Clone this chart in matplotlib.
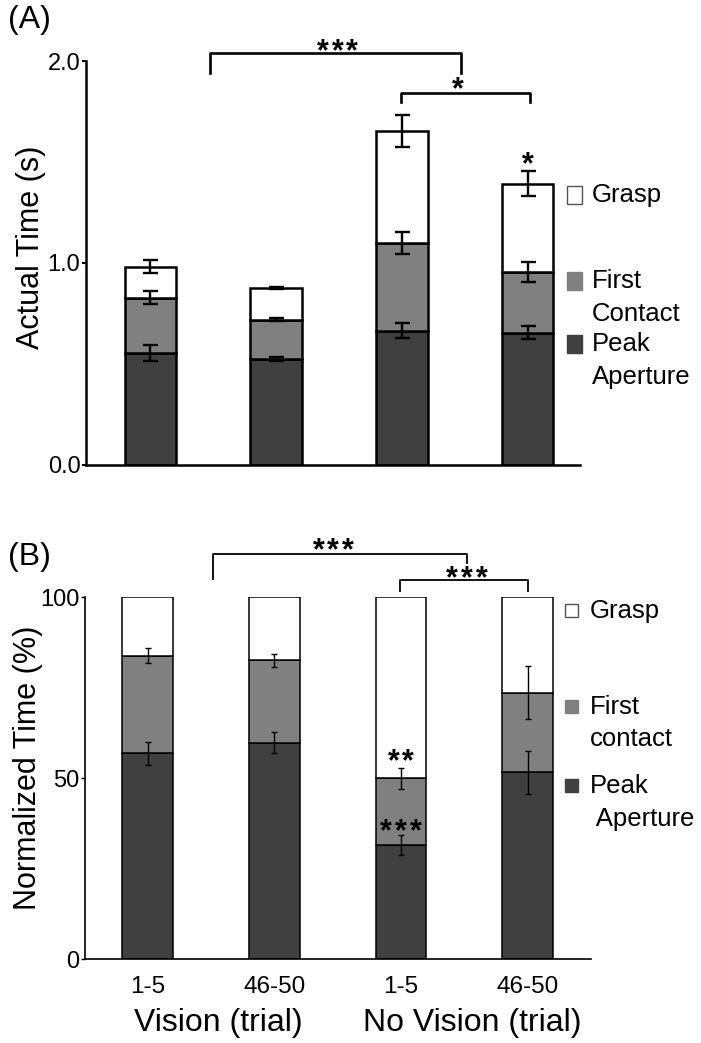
import matplotlib

matplotlib.use("Agg")
import matplotlib.pyplot as plt
import numpy as np
from matplotlib.font_manager import FontProperties
from matplotlib.patches import Rectangle
from matplotlib.textpath import TextPath

plt.rcParams["font.family"] = ["Liberation Sans", "DejaVu Sans"]

# ---- data -------------------------------------------------------------
groups = ["Vision 1-5", "Vision 46-50", "No Vision 1-5", "No Vision 46-50"]
tick_labels = ["1-5", "46-50", "1-5", "46-50"]
group_labels = ["Vision (trial)", "No Vision (trial)"]

# (A) actual time (s) at which each event is reached
peak_time = [0.556, 0.525, 0.665, 0.655]
contact_time = [0.827, 0.720, 1.100, 0.954]
grasp_time = [0.981, 0.875, 1.654, 1.393]
peak_time_err = [0.040, 0.008, 0.036, 0.033]
contact_time_err = [0.032, 0.006, 0.055, 0.049]
grasp_time_err = [0.033, 0.005, 0.078, 0.063]

# (B) normalised time (% of movement)
peak_pct = [56.8, 59.8, 31.5, 51.6]
contact_pct = [83.8, 82.5, 49.9, 73.6]
grasp_pct = [100, 100, 100, 100]
peak_pct_err = [3.2, 3.0, 2.8, 5.9]
contact_pct_err = [2.0, 1.75, 2.8, 7.3]

PEAK_C = "#404040"
CONTACT_C = "#808080"
GRASP_C = "#ffffff"

STAR_FP = FontProperties(family="Liberation Sans", weight="bold", size=22)
STAR_GAP = 10.5  # points between asterisk centres
# vertical centre of the asterisk glyph above the baseline, in points
_ext = TextPath((0, 0), "*", prop=STAR_FP).get_extents()
STAR_DY = (_ext.y0 + _ext.y1) / 2
STAR_DX = (_ext.x0 + _ext.x1) / 2


def stars(ax, x, y, n):
    """Place n asterisks so the group of glyphs is centred on (x, y)."""
    for k in range(n):
        off = (k - (n - 1) / 2) * STAR_GAP
        ax.annotate("*", (x, y), xytext=(off - STAR_DX, -STAR_DY), textcoords="offset points",
                    ha="left", va="baseline", fontproperties=STAR_FP, annotation_clip=False)


def stacked(ax, x, tops, errs, width, lw, capsize, elw):
    bottom = np.zeros(len(x))
    for top, col in zip(tops, [PEAK_C, CONTACT_C, GRASP_C]):
        top = np.asarray(top, dtype=float)
        ax.bar(x, top - bottom, width, bottom=bottom, color=col, edgecolor="black", linewidth=lw, zorder=2)
        bottom = top
    for top, err in zip(tops, errs):
        ax.errorbar(x, top, yerr=err, fmt="none", ecolor="black", elinewidth=elw,
                    capsize=capsize, capthick=elw, zorder=3)


def bracket(ax, x0, x1, ytop, yl, yr, lw):
    ax.plot([x0, x0, x1, x1], [yl, ytop, ytop, yr], color="black", lw=lw, clip_on=False, zorder=4)


def legend(ax, x_sq, x_txt, w, h, entries, fs):
    for y, col, lines in entries:
        ax.add_patch(Rectangle((x_sq, y - h / 2), w, h, facecolor=col,
                               edgecolor="#555555" if col == GRASP_C else col, lw=1, clip_on=False))
        for txt, dy in lines:
            ax.text(x_txt, y + dy, txt, fontsize=fs, va="center", ha="left", clip_on=False)


fig = plt.figure(figsize=(7.01, 10.43), dpi=100)
x = np.arange(len(groups))

# ---- panel A ----------------------------------------------------------
axA = fig.add_axes([0.1227, 0.5542, 0.7047, 0.3873])
stacked(axA, x, [peak_time, contact_time, grasp_time],
        [peak_time_err, contact_time_err, grasp_time_err], 0.405, 1.8, 5.4, 1.7)
axA.set_xlim(-0.508, 3.413)
axA.set_ylim(0, 2.0)
axA.set_yticks([0, 1, 2])
axA.set_yticklabels(["0.0", "1.0", "2.0"])
axA.set_xticks([])
for s in ["top", "right"]:
    axA.spines[s].set_visible(False)
for s in ["left", "bottom"]:
    axA.spines[s].set_linewidth(1.8)
axA.tick_params(axis="y", labelsize=17, length=3, width=1.5, pad=1)
axA.set_ylabel("Actual Time (s)", fontsize=22)
axA.yaxis.set_label_coords(-0.081, 0.54)

bracket(axA, 0.476, 2.466, 2.04, 1.94, 1.94, 1.9)
stars(axA, 1.49, 2.08, 3)
bracket(axA, 1.99, 3.02, 1.842, 1.797, 1.797, 1.9)
stars(axA, 2.44, 1.89, 1)
stars(axA, 3.0, 1.52, 1)

legend(axA, 3.31, 3.508, 0.12, 0.089, [
    (1.338, GRASP_C, [("Grasp", 0)]),
    (0.909, CONTACT_C, [("First", 0), ("Contact", -0.163)]),
    (0.598, PEAK_C, [("Peak", 0), ("Aperture", -0.163)]),
], 18.5)
fig.text(0.011, 0.981, "(A)", fontsize=23, va="center", ha="left")

# ---- panel B ----------------------------------------------------------
axB = fig.add_axes([0.1213, 0.0805, 0.7218, 0.3471])
stacked(axB, x, [peak_pct, contact_pct, grasp_pct],
        [peak_pct_err, contact_pct_err], 0.40, 1.1, 2.4, 1.0)
axB.set_xlim(-0.493, 3.50)
axB.set_ylim(0, 100)
axB.set_yticks([0, 50, 100])
axB.set_xticks(x)
axB.set_xticklabels(tick_labels)
for s in ["top", "right"]:
    axB.spines[s].set_visible(False)
for s in ["left", "bottom"]:
    axB.spines[s].set_linewidth(1.2)
axB.tick_params(axis="y", labelsize=17, length=3, width=1.0, pad=1)
axB.tick_params(axis="x", labelsize=17.5, length=0, pad=12)
axB.set_ylabel("Normalized Time (%)", fontsize=22)
axB.yaxis.set_label_coords(-0.083, 0.529)
for i, lab in enumerate(group_labels):
    axB.text(0.56 + 2 * i, -17.8, lab, fontsize=23, ha="center", va="center", clip_on=False)

bracket(axB, 0.515, 2.52, 111.8, 104.9, 109.5, 1.3)
stars(axB, 1.464, 114.8, 3)
bracket(axB, 1.99, 3.0, 104.6, 101.7, 101.7, 1.3)
stars(axB, 2.52, 107.0, 3)
stars(axB, 2.0, 56.4, 2)
stars(axB, 2.0, 37.0, 3)

legend(axB, 3.295, 3.49, 0.105, 3.6, [
    (96.2, GRASP_C, [("Grasp", 0)]),
    (69.7, CONTACT_C, [("First", 0), ("contact", -8.9)]),
    (47.9, PEAK_C, [("Peak", 0), (" Aperture", -9.1)]),
], 18.5)
fig.text(0.011, 0.466, "(B)", fontsize=23, va="center", ha="left")

fig.savefig("out.png", dpi=100)
